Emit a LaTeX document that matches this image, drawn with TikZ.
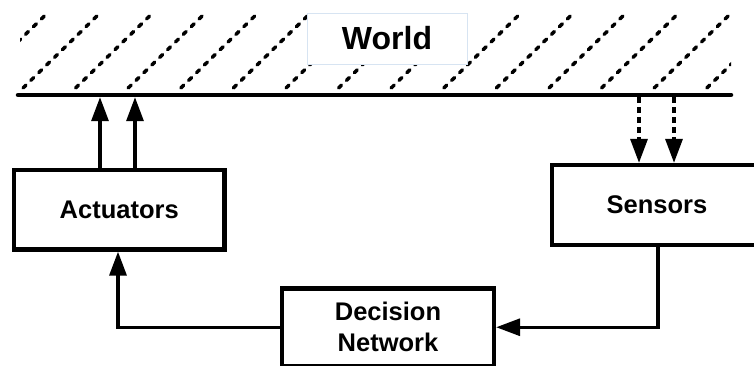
\documentclass[tikz,border=0pt]{standalone}
\usepackage{fontspec}
\setmainfont{Liberation Sans}
\usetikzlibrary{arrows.meta}
\begin{document}
\begin{tikzpicture}[x=1pt,y=-1pt,
  box/.style={draw=black,line width=4.3pt,fill=white,rectangle,inner sep=0pt,
    font=\fontsize{25.5}{31}\selectfont\bfseries,align=center},
  conn/.style={line width=3.3pt,-{Triangle[length=24pt,width=17pt]}},
  dconn/.style={line width=3.3pt,dash pattern=on 6pt off 4pt,-{Triangle[length=24pt,width=17pt]}},
  hatch/.style={line width=3.5pt,line cap=round,dash pattern=on 4pt off 7pt},
  ground/.style={line width=4.5pt,line cap=round}]
\useasboundingbox (0,0) rectangle (754,366);
% hatching
\begin{scope}
  \clip (20,10) rectangle (731,90);
  \foreach \i in {-1,...,14}{
    \draw[hatch] (23+52.6*\i,88) -- ++(75,-73);
  }
\end{scope}
\node[fill=white,draw={rgb,255:red,215;green,228;blue,242},line width=0.8pt,
  minimum width=160pt,minimum height=51pt,inner sep=0pt,
  font=\fontsize{32}{36}\selectfont\bfseries] (world) at (387,38.5) {World};
% ground line
\coordinate (gl) at (18,95);
\coordinate (gr) at (731,95);
\draw[ground] (gl) -- (gr);
% boxes
\node[box,minimum width=210.5pt,minimum height=79.5pt] (act) at (119.25,209.75) {Actuators};
\node[box,minimum width=210pt,minimum height=80pt] (sen) at (657,205) {Sensors};
\node[box,minimum width=212pt,minimum height=77.5pt] (dec) at (388,327.25) {Decision\\Network};
% arrow end points on the ground line
\coordinate (a1) at (100,97.2);
\coordinate (a2) at (135,97.2);
\coordinate (s1) at (639,97.2);
\coordinate (s2) at (674,97.2);
\draw[conn] (a1 |- act.north) -- (a1);
\draw[conn] (a2 |- act.north) -- (a2);
\draw[dconn] (s1) -- (s1 |- sen.north);
\draw[dconn] (s2) -- (s2 |- sen.north);
\draw[conn] (dec.west) -| ([xshift=-1.25pt]act.south);
\draw[conn] ([xshift=1pt]sen.south) |- (dec.east);
\end{tikzpicture}
\end{document}
